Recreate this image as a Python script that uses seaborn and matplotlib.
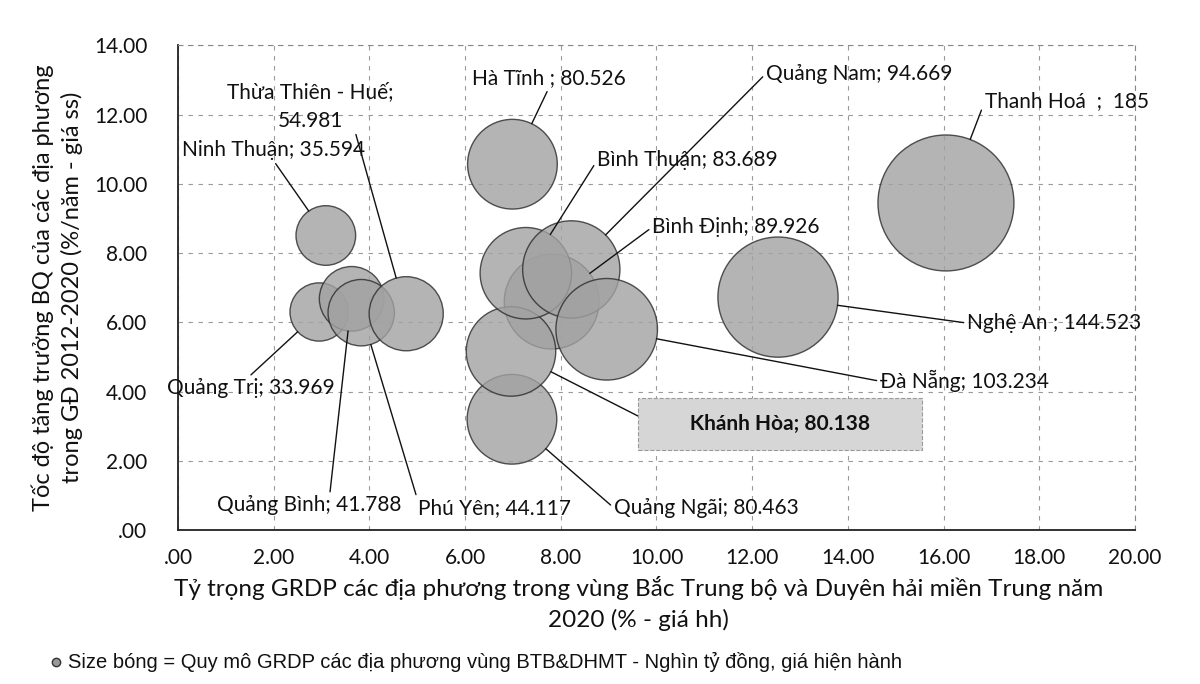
import numpy as np
import pandas as pd
import seaborn as sns

import matplotlib
matplotlib.use("Agg")  # headless mode (no GUI)

import matplotlib.pyplot as plt
from matplotlib.lines import Line2D

sns.set_theme(style="whitegrid")
plt.rcParams["font.family"] = ["Lato", "DejaVu Sans"]

# data
provinces = ["Bình Định", "Thanh Hoá", "Nghệ An", "Hà Tĩnh", "Ninh Thuận", "Quảng Trị",
             "Quảng Bình", "Phú Yên", "Thừa Thiên - Huế", "Quảng Ngãi", "Khánh Hòa",
             "Bình Thuận", "Quảng Nam", "Đà Nẵng"]
share_2020 = [7.81, 16.05, 12.54, 6.99, 3.09, 2.95, 3.63, 3.83, 4.77, 6.98, 6.96, 7.27, 8.22, 8.96]
growth_1220 = [6.60, 9.45, 6.73, 10.57, 8.51, 6.30, 6.68, 6.28, 6.25, 3.20, 5.16, 7.42, 7.53, 5.80]
grdp_2020 = [89.926, 185, 144.523, 80.526, 35.594, 33.969, 41.788, 44.117, 54.981, 80.463,
             80.138, 83.689, 94.669, 103.234]
label_text = ["Bình Định; 89.926", "Thanh Hoá  ;  185", "Nghệ An ; 144.523", "Hà Tĩnh ; 80.526",
              "Ninh Thuận; 35.594", "Quảng Trị; 33.969", "Quảng Bình; 41.788", "Phú Yên; 44.117",
              "Thừa Thiên - Huế;\n54.981", "Quảng Ngãi; 80.463", "Khánh Hòa; 80.138",
              "Bình Thuận; 83.689", "Quảng Nam; 94.669", "Đà Nẵng; 103.234"]

df = pd.DataFrame({"province": provinces, "share": share_2020,
                   "growth": growth_1220, "grdp": grdp_2020})

# label placement (text position, alignment, leader start on text box)
label_pos = {
    "Bình Định": ((9.91, 8.75), "left", (0.0, 0.5)),
    "Thanh Hoá": ((16.86, 12.38), "left", (0.0, 0.5)),
    "Nghệ An": ((16.49, 5.98), "left", (0.0, 0.5)),
    "Hà Tĩnh": ((6.14, 13.05), "left", (0.5, 0.0)),
    "Ninh Thuận": ((0.08, 10.97), "left", (0.5, 0.0)),
    "Quảng Trị": ((-0.23, 4.10), "left", (0.48, 1.0)),
    "Quảng Bình": ((0.82, 0.72), "left", (0.61, 1.0)),
    "Phú Yên": ((5.02, 0.64), "left", (0.0, 0.8)),
    "Thừa Thiên - Huế": ((2.76, 12.24), "center", (0.77, 0.0)),
    "Quảng Ngãi": ((9.11, 0.64), "left", (0.0, 0.5)),
    "Khánh Hòa": ((12.58, 3.06), "center", (0.0, 0.5)),
    "Bình Thuận": ((8.76, 10.68), "left", (0.0, 0.5)),
    "Quảng Nam": ((12.29, 13.19), "left", (0.0, 0.5)),
    "Đà Nẵng": ((14.67, 4.30), "left", (0.0, 0.5)),
}

SMAX = 9583  # marker area (pt^2) of the largest bubble
fig = plt.figure(figsize=(12, 6.84), dpi=100)
ax = fig.add_axes([0.1483, 0.2251, 0.7975, 0.7084])

sns.scatterplot(data=df, x="share", y="growth", size="grdp",
                sizes=(0, SMAX), size_norm=(0, 185),
                color="#a2a2a2", edgecolor="#2a2a2a", linewidth=1.0,
                alpha=0.8, legend=False, ax=ax, zorder=3)

for i, name in enumerate(provinces):
    (tx, ty), ha, rel = label_pos[name]
    r_pt = np.sqrt(SMAX * grdp_2020[i] / 185) / 2
    txt = label_text[i]
    kw = {}
    if name == "Khánh Hòa":
        txt = " " * 7 + txt + " " * 7
        kw = dict(fontweight="bold",
                  bbox=dict(boxstyle="square,pad=0.75", fc="#d6d6d6", ec="#9a9a9a", ls="--", lw=0.8))
    ax.annotate(txt, xy=(share_2020[i], growth_1220[i]), xytext=(tx, ty),
                ha=ha, va="center", fontsize=15, color="#111111", zorder=5,
                multialignment="center", linespacing=1.6,
                arrowprops=dict(arrowstyle="-", color="#111111", lw=1.0,
                                shrinkA=0, shrinkB=r_pt, relpos=rel),
                annotation_clip=False, **kw)

ax.set_xlim(0, 20)
ax.set_ylim(0, 14)
ax.set_xticks(np.arange(0, 21, 2))
ax.set_yticks(np.arange(0, 15, 2))

def fmt(v, pos=None):
    s = f"{v:.2f}"
    return s[1:] if s.startswith("0") else s

ax.xaxis.set_major_formatter(plt.FuncFormatter(fmt))
ax.yaxis.set_major_formatter(plt.FuncFormatter(fmt))
ax.tick_params(axis="both", labelsize=15, colors="#111111")
ax.tick_params(axis="y", pad=16)
ax.tick_params(axis="x", pad=7)

ax.grid(True, color="#9a9a9a", linestyle=(0, (4, 5)), linewidth=0.8)
ax.set_facecolor("white")
for side in ["left", "bottom"]:
    ax.spines[side].set_color("#222222")
    ax.spines[side].set_linewidth(1.3)
for side in ["top", "right"]:
    ax.spines[side].set_color("#888888")
    ax.spines[side].set_linestyle((0, (4, 5)))
    ax.spines[side].set_linewidth(0.8)

ax.set_xlabel("Tỷ trọng GRDP các địa phương trong vùng Bắc Trung bộ và Duyên hải miền Trung năm\n2020 (% - giá hh)",
              fontsize=17.5, color="#111111", labelpad=6, linespacing=1.45)
ax.xaxis.label.set_x(0.481)
ax.set_ylabel("Tốc độ tăng trưởng BQ của các địa phương\ntrong GĐ 2012-2020 (%/năm - giá ss)",
              fontsize=17, color="#111111", labelpad=8, linespacing=1.4)

# size note under the chart
fig.add_artist(Line2D([0.047], [0.032], marker="o", markersize=6, color="#999999",
                      markeredgecolor="#333333", transform=fig.transFigure))
fig.text(0.057, 0.032, "Size bóng = Quy mô GRDP các địa phương vùng BTB&DHMT - Nghìn tỷ đồng, giá hiện hành",
         fontsize=14.5, family=["Liberation Sans", "DejaVu Sans"], color="#111111", va="center")

plt.savefig("out.png", dpi=100)
